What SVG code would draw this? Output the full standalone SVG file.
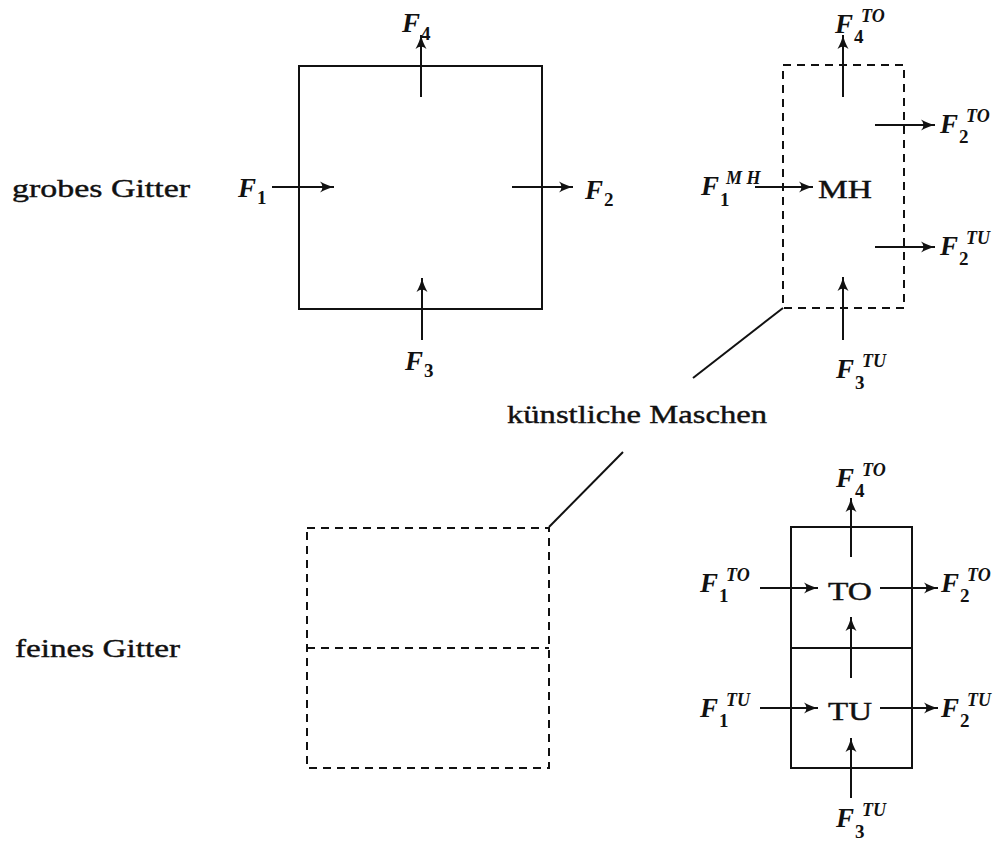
<svg xmlns="http://www.w3.org/2000/svg" width="1004" height="843" viewBox="0 0 1004 843">
<defs>
<marker id="ah" markerUnits="userSpaceOnUse" markerWidth="16" markerHeight="12" viewBox="-14 -6 16 12" refX="0" refY="0" orient="auto">
<path d="M-14,-5.5 Q-6,-1.2 0,0 Q-6,1.2 -14,5.5 Q-9,0 -14,-5.5 Z" fill="#111"/>
</marker>
<style>
.t{font-family:"Liberation Serif",serif;font-size:26px;fill:#111;stroke:#111;stroke-width:0.4}
.f{font-family:"Liberation Serif",serif;font-size:27px;font-style:italic;font-weight:bold;fill:#111}
.sp{font-family:"Liberation Serif",serif;font-size:18px;font-style:italic;font-weight:bold;fill:#111}
.sb{font-family:"Liberation Serif",serif;font-size:19px;font-weight:bold;fill:#111}
.box{fill:none;stroke:#111;stroke-width:2}
.dash{fill:none;stroke:#111;stroke-width:2;stroke-dasharray:8 6}
.ar{stroke:#111;stroke-width:2;fill:none;marker-end:url(#ah)}
.ln{stroke:#111;stroke-width:2;fill:none}
</style>
</defs>
<rect width="1004" height="843" fill="#fff"/>

<g id="labels">
<text class="t" x="12" y="197" textLength="178" lengthAdjust="spacingAndGlyphs">grobes Gitter</text>
<text class="t" x="15" y="657" textLength="165" lengthAdjust="spacingAndGlyphs">feines Gitter</text>
<text class="t" x="507" y="423" textLength="260" lengthAdjust="spacingAndGlyphs">künstliche Maschen</text>
</g>

<g id="coarse-cell">
<rect class="box" x="299" y="66" width="243" height="243"/>
<text class="f" x="402" y="32">F</text><text class="sb" x="421" y="40">4</text>
<text class="f" x="238" y="197">F</text><text class="sb" x="257" y="204">1</text>
<text class="f" x="585" y="199">F</text><text class="sb" x="604" y="206">2</text>
<text class="f" x="405" y="370">F</text><text class="sb" x="424" y="377">3</text>
</g>

<g id="coarse-artificial">
<rect class="dash" x="783" y="65" width="121" height="243"/>
<text class="t" x="818" y="198" textLength="54" lengthAdjust="spacingAndGlyphs">MH</text>
<text class="f" x="835" y="33">F</text><text class="sp" x="861" y="22">TO</text><text class="sb" x="854" y="43">4</text>
<text class="f" x="940" y="133">F</text><text class="sp" x="966" y="122">TO</text><text class="sb" x="959" y="143">2</text>
<text class="f" x="940" y="255">F</text><text class="sp" x="966" y="244">TU</text><text class="sb" x="959" y="265">2</text>
<text class="f" x="701" y="195">F</text><text class="sp" x="726" y="184">M H</text><text class="sb" x="720" y="206">1</text>
<text class="f" x="836" y="378">F</text><text class="sp" x="862" y="367">TU</text><text class="sb" x="855" y="389">3</text>
</g>

<g id="fine-artificial">
<rect class="dash" x="307" y="528" width="242" height="240"/>
<line class="dash" x1="307" y1="648" x2="549" y2="648"/>
</g>

<g id="fine-cells">
<rect class="box" x="791" y="527" width="121" height="241"/>
<line class="box" x1="791" y1="648" x2="912" y2="648"/>
<text class="t" x="828" y="600" textLength="44" lengthAdjust="spacingAndGlyphs">TO</text>
<text class="t" x="828" y="720" textLength="44" lengthAdjust="spacingAndGlyphs">TU</text>
<text class="f" x="836" y="487">F</text><text class="sp" x="862" y="476">TO</text><text class="sb" x="855" y="497">4</text>
<text class="f" x="700" y="592">F</text><text class="sp" x="726" y="581">TO</text><text class="sb" x="719" y="602">1</text>
<text class="f" x="941" y="592">F</text><text class="sp" x="967" y="581">TO</text><text class="sb" x="960" y="602">2</text>
<text class="f" x="700" y="717">F</text><text class="sp" x="726" y="706">TU</text><text class="sb" x="719" y="727">1</text>
<text class="f" x="941" y="717">F</text><text class="sp" x="967" y="706">TU</text><text class="sb" x="960" y="727">2</text>
<text class="f" x="836" y="827">F</text><text class="sp" x="862" y="816">TU</text><text class="sb" x="855" y="838">3</text>
</g>

<g id="connectors">
<line class="ar" x1="421" y1="97" x2="421" y2="35"/>
<line class="ar" x1="272" y1="187" x2="334" y2="187"/>
<line class="ar" x1="512" y1="187" x2="573" y2="187"/>
<line class="ar" x1="422" y1="340" x2="422" y2="278"/>

<line class="ar" x1="843" y1="97" x2="843" y2="35"/>
<line class="ar" x1="875" y1="125" x2="935" y2="125"/>
<line class="ar" x1="875" y1="247" x2="935" y2="247"/>
<line class="ar" x1="755" y1="187" x2="813" y2="187"/>
<line class="ar" x1="843" y1="340" x2="843" y2="277"/>

<line class="ar" x1="851" y1="557" x2="851" y2="498"/>
<line class="ar" x1="760" y1="588" x2="818" y2="588"/>
<line class="ar" x1="880" y1="588" x2="938" y2="588"/>
<line class="ar" x1="851" y1="678" x2="851" y2="617"/>
<line class="ar" x1="760" y1="708" x2="818" y2="708"/>
<line class="ar" x1="880" y1="708" x2="938" y2="708"/>
<line class="ar" x1="851" y1="798" x2="851" y2="738"/>

<line class="ln" x1="783" y1="308" x2="693" y2="378"/>
<line class="ln" x1="623" y1="452" x2="549" y2="527"/>
</g>
</svg>
